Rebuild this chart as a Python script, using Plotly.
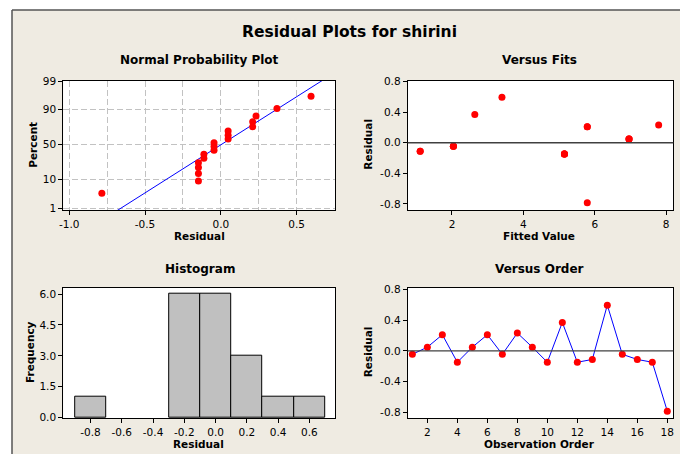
import plotly.graph_objects as go
from statistics import NormalDist, mean, stdev

# ---------------- data ----------------
order = list(range(1, 19))
residuals = [-0.045, 0.048, 0.21, -0.148, 0.048, 0.21, -0.045, 0.232, 0.048,
             -0.148, 0.37, -0.148, -0.112, 0.595, -0.045, -0.112, -0.148, -0.785]
fitted = [2.04, 6.96, 5.79, 5.15, 6.96, 5.79, 2.04, 7.79, 6.96,
          5.15, 2.64, 5.15, 1.11, 3.40, 2.04, 1.11, 5.15, 5.79]

pct_ticks = [1, 10, 50, 90, 99]
npp_xticks = [-1.0, -0.5, 0.0, 0.5]
res_ticks = [-0.8, -0.4, 0.0, 0.4, 0.8]
fit_ticks = [2, 4, 6, 8]
hist_xticks = [-0.8, -0.6, -0.4, -0.2, 0.0, 0.2, 0.4, 0.6]
freq_ticks = [0.0, 1.5, 3.0, 4.5, 6.0]
order_ticks = [2, 4, 6, 8, 10, 12, 14, 16, 18]

# ---------------- derived ----------------
nd = NormalDist()
n = len(residuals)
sorted_res = sorted(residuals)
probs = [(i - 0.3) / (n + 0.4) for i in range(1, n + 1)]
zvals = [nd.inv_cdf(p) for p in probs]
mu, sd = mean(residuals), stdev(residuals)
zline = [-2.6, 2.6]
xline = [mu + sd * z for z in zline]

W, H = 680, 454
def px(x): return x / W
def py(y): return 1 - y / H

FONT = "DejaVu Sans"
RED = "#FF0000"
BLUE = "#0000FF"
BEIGE = "#EFEBE2"
GRID = "#C2C2C2"

fig = go.Figure()

# Normal probability plot
fig.add_trace(go.Scatter(x=xline, y=zline, mode="lines", line=dict(color=BLUE, width=1),
                         xaxis="x", yaxis="y", showlegend=False, hoverinfo="skip"))
fig.add_trace(go.Scatter(x=sorted_res, y=zvals, mode="markers",
                         marker=dict(color=RED, size=7), xaxis="x", yaxis="y", showlegend=False))
# Versus fits
fig.add_trace(go.Scatter(x=fitted, y=residuals, mode="markers",
                         marker=dict(color=RED, size=7), xaxis="x2", yaxis="y2", showlegend=False))
# Histogram
fig.add_trace(go.Histogram(x=residuals, xbins=dict(start=-0.9, end=0.7, size=0.2),
                           marker=dict(color="#C0C0C0", line=dict(color="#000000", width=1)),
                           xaxis="x3", yaxis="y3", showlegend=False))
# Versus order
fig.add_trace(go.Scatter(x=order, y=residuals, mode="lines+markers",
                         line=dict(color=BLUE, width=1),
                         marker=dict(color=RED, size=7), xaxis="x4", yaxis="y4", showlegend=False))

axis_common = dict(showline=True, mirror=True, linecolor="#000000", linewidth=1,
                   ticks="outside", ticklen=4, tickcolor="#000000", tickwidth=1,
                   zeroline=False, showgrid=False, automargin=False,
                   tickfont=dict(family=FONT, size=10.5, color="#000000"))

topY = [py(210), py(80.7)]
botY = [py(418), py(287.7)]
leftX = [px(63.2), px(335)]
rightX = [px(407.7), px(673.3)]

def fmt(v): return f"{v:.1f}"

fig.update_layout(
    width=W, height=H, margin=dict(l=0, r=0, t=0, b=0, pad=0, autoexpand=False),
    showlegend=False,
    paper_bgcolor=BEIGE, plot_bgcolor="#FFFFFF", bargap=0,
    xaxis=dict(**axis_common, domain=leftX, anchor="y", range=[-1.04, 0.753],
               tickmode="array", tickvals=npp_xticks, ticktext=[fmt(v) for v in npp_xticks]),
    yaxis=dict(**axis_common, domain=topY, anchor="x", range=[-2.39, 2.34],
               tickmode="array", tickvals=[nd.inv_cdf(p / 100) for p in pct_ticks],
               ticktext=[str(p) for p in pct_ticks]),
    xaxis2=dict(**axis_common, domain=rightX, anchor="y2", range=[0.76, 8.2],
                tickmode="array", tickvals=fit_ticks, ticktext=[str(v) for v in fit_ticks]),
    yaxis2=dict(**axis_common, domain=topY, anchor="x2", range=[-0.88, 0.812],
                tickmode="array", tickvals=res_ticks, ticktext=[fmt(v) for v in res_ticks]),
    xaxis3=dict(**axis_common, domain=leftX, anchor="y3", range=[-0.975, 0.764],
                tickmode="array", tickvals=hist_xticks, ticktext=[fmt(v) for v in hist_xticks]),
    yaxis3=dict(**axis_common, domain=botY, anchor="x3", range=[-0.02, 6.31],
                tickmode="array", tickvals=freq_ticks, ticktext=[fmt(v) for v in freq_ticks]),
    xaxis4=dict(**axis_common, domain=rightX, anchor="y4", range=[0.69, 18.4],
                tickmode="array", tickvals=order_ticks, ticktext=[str(v) for v in order_ticks]),
    yaxis4=dict(**axis_common, domain=botY, anchor="x4", range=[-0.874, 0.822],
                tickmode="array", tickvals=res_ticks, ticktext=[fmt(v) for v in res_ticks]),
)

# dashed gridlines on probability plot
fig.update_xaxes(selector=dict(anchor="y"), showgrid=True, gridcolor=GRID, griddash="6px,3px", gridwidth=1,
                 minor=dict(tickmode="linear", tick0=0, dtick=0.25, showgrid=True,
                            gridcolor=GRID, griddash="6px,3px", gridwidth=1, ticks=""))
fig.update_yaxes(selector=dict(anchor="x"), showgrid=True, gridcolor=GRID, griddash="6px,3px", gridwidth=1)

shapes = [
    # white margins outside the frame
    dict(type="rect", xref="paper", yref="paper", x0=0, x1=1, y0=py(10), y1=1,
         fillcolor="#FFFFFF", line=dict(width=0), layer="below"),
    dict(type="rect", xref="paper", yref="paper", x0=0, x1=px(12), y0=0, y1=1,
         fillcolor="#FFFFFF", line=dict(width=0), layer="below"),
    # frame border
    dict(type="line", xref="paper", yref="paper", x0=px(12), x1=1, y0=py(10), y1=py(10),
         line=dict(color="#555555", width=1.5)),
    dict(type="line", xref="paper", yref="paper", x0=px(12), x1=px(12), y0=0, y1=py(10),
         line=dict(color="#555555", width=1.5)),
    # zero reference lines
    dict(type="line", xref="x2 domain", yref="y2", x0=0, x1=1, y0=0, y1=0,
         line=dict(color="#404040", width=1.3)),
    dict(type="line", xref="x4 domain", yref="y4", x0=0, x1=1, y0=0, y1=0,
         line=dict(color="#404040", width=1.3)),
]
fig.update_layout(shapes=shapes)

def ann(text, x, y, size, bold=True, angle=0):
    return dict(text=f"<b>{text}</b>" if bold else text, x=px(x), y=py(y), xref="paper", yref="paper",
                xanchor="center", yanchor="middle", showarrow=False, textangle=angle,
                font=dict(family=FONT, size=size, color="#000000"))

annotations = [
    ann("Residual Plots for shirini", 350, 31.5, 15.5),
    ann("Normal Probability Plot", 199, 60.5, 12),
    ann("Versus Fits", 539.5, 60.5, 12),
    ann("Histogram", 199.5, 269, 12),
    ann("Versus Order", 539, 269, 12),
    ann("Residual", 199, 236, 10.5),
    ann("Fitted Value", 539, 236, 10.5),
    ann("Residual", 198.5, 444, 10.5),
    ann("Observation Order", 539, 444, 10.5),
    ann("Percent", 32.7, 145, 10.5, angle=-90),
    ann("Residual", 367.7, 144, 10.5, angle=-90),
    ann("Frequency", 29.3, 351.7, 10.5, angle=-90),
    ann("Residual", 368.3, 352, 10.5, angle=-90),
]
fig.update_layout(annotations=annotations)

fig.write_html("out.html", config={"displayModeBar": False},
               post_script="document.body.style.margin='0';document.body.style.overflow='hidden';")
